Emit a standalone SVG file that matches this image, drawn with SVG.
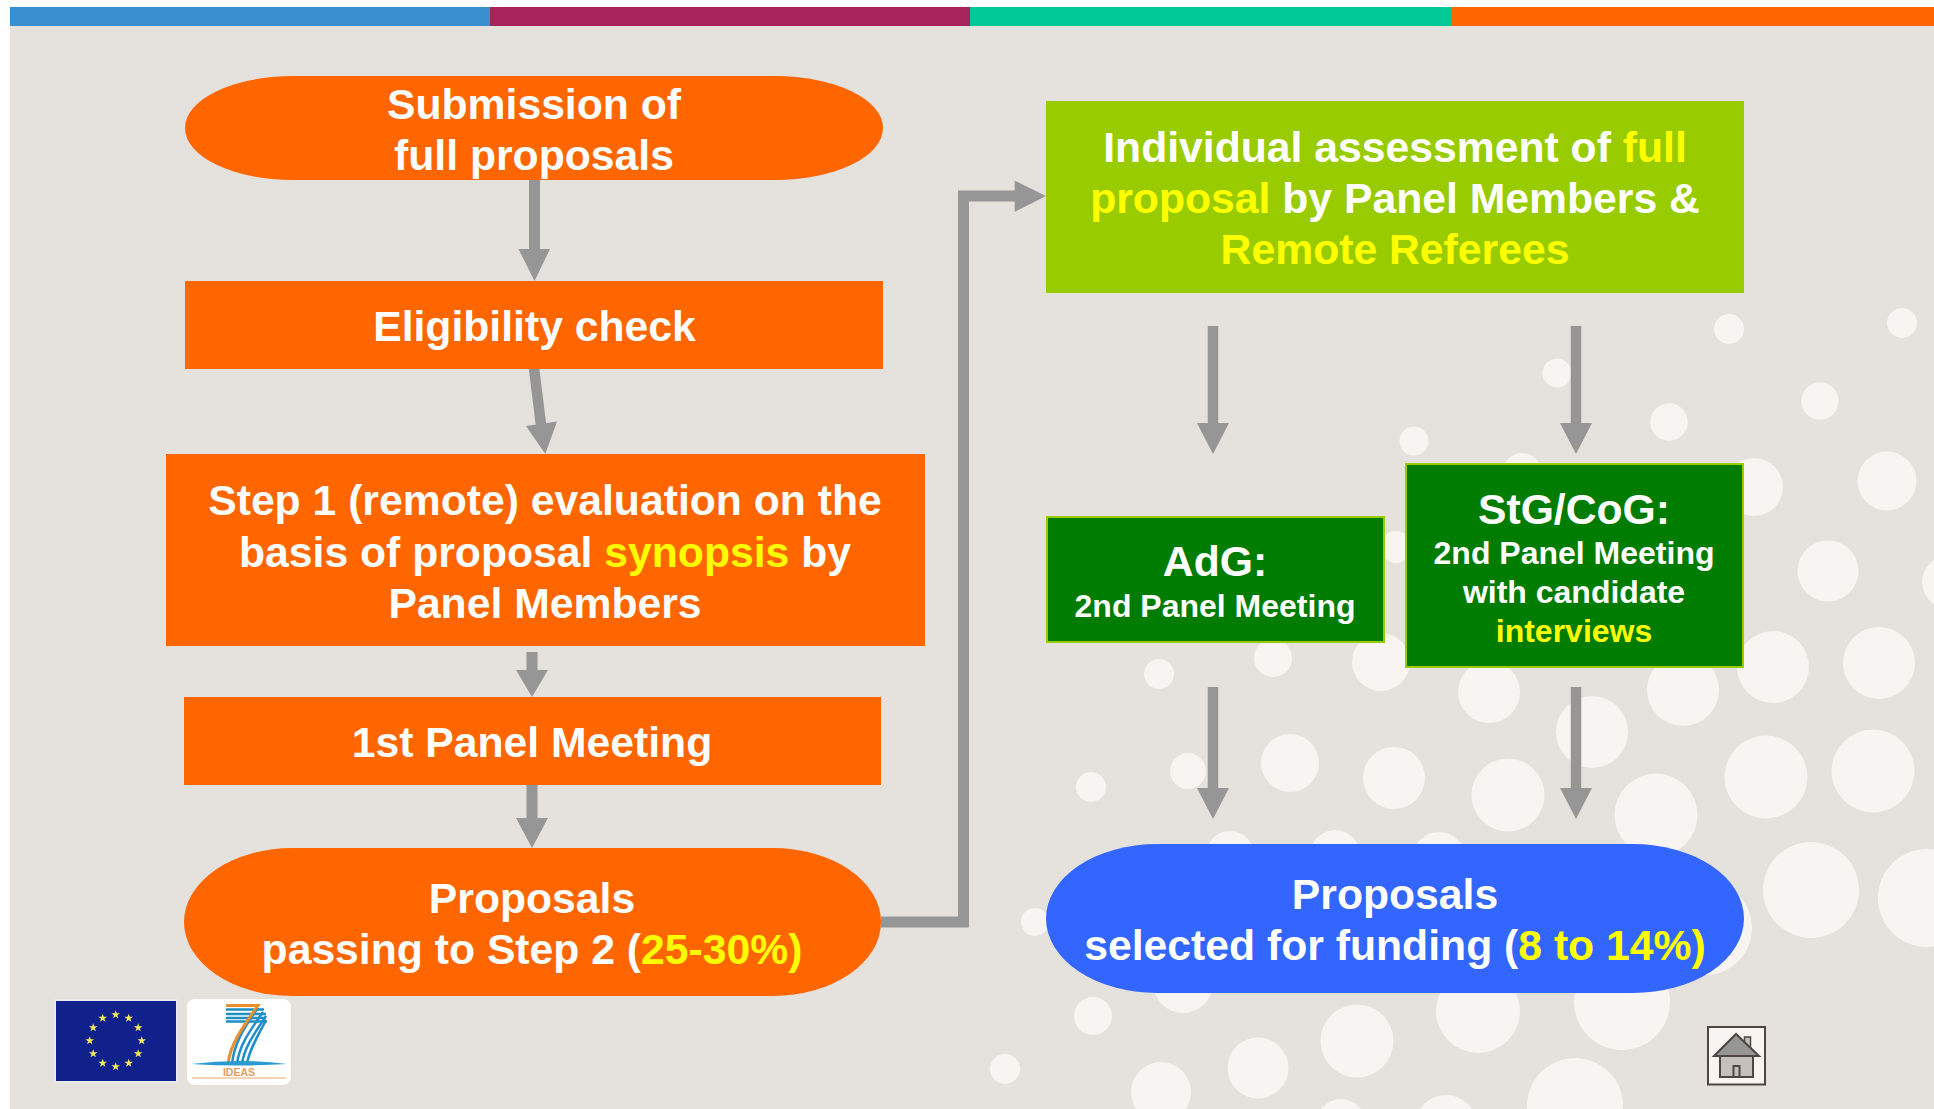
<svg xmlns="http://www.w3.org/2000/svg" xmlns:xlink="http://www.w3.org/1999/xlink" width="1934" height="1109" viewBox="0 0 1934 1109">
<style>
text{font-family:"Liberation Sans",Arial,sans-serif;font-weight:700;fill:#fff;text-anchor:middle}
.t{font-size:42.7px}.s{font-size:32px}.y{fill:#ff0}
.o{fill:#f60}.g{fill:#007c00;stroke:#9c0;stroke-width:2}
.a{stroke:#969696;fill:none}.h{fill:#969696}
.d{fill:#f7f4f2}
</style>
<defs><path id="star" d="M0-4.500L1.100-1.400 4.300-1.400 1.700.5 2.700 3.600 0 1.700-2.700 3.600-1.700.5-4.300-1.400-1.100-1.400Z" fill="#f0e85a"/></defs>
<rect width="1934" height="1109" fill="#fff"/>
<rect x="10" y="7" width="1924" height="1102" fill="#e5e1dd"/>
<g id="bar">
<rect x="10" y="7" width="480" height="19" fill="#3a8fd0"/>
<rect x="490" y="7" width="480" height="19" fill="#a8235c"/>
<rect x="970" y="7" width="481" height="19" fill="#00c896"/>
<rect x="1451" y="7" width="483" height="19" fill="#f60"/>
</g>
<g id="dots" class="d">
<circle cx="1729" cy="329" r="15"/><circle cx="1902" cy="323" r="15"/><circle cx="1557" cy="373" r="14.500"/><circle cx="1820" cy="401" r="18.700"/><circle cx="1669" cy="422" r="18.700"/><circle cx="1414" cy="441" r="14.500"/><circle cx="1522" cy="472" r="19"/><circle cx="1754" cy="487" r="29"/><circle cx="1887" cy="481" r="29.500"/><circle cx="1828" cy="571" r="30.500"/><circle cx="1948" cy="582" r="26"/><circle cx="1396" cy="547" r="16"/><circle cx="1273" cy="658" r="19"/><circle cx="1159" cy="674" r="15"/><circle cx="1381" cy="662" r="29"/><circle cx="1489" cy="692" r="31"/><circle cx="1683" cy="690" r="36"/><circle cx="1773" cy="667" r="36"/><circle cx="1879" cy="663" r="36"/><circle cx="1592" cy="732" r="36"/><circle cx="1290" cy="763" r="29"/><circle cx="1188" cy="771" r="18"/><circle cx="1091" cy="787" r="15"/><circle cx="1394" cy="778" r="31"/><circle cx="1508" cy="795" r="36.500"/><circle cx="1766" cy="777" r="41.500"/><circle cx="1873" cy="771" r="41.500"/><circle cx="1656" cy="815" r="41.500"/><circle cx="1811" cy="890" r="48"/><circle cx="1927" cy="898" r="49"/><circle cx="1230" cy="855" r="24"/><circle cx="1335" cy="855" r="25"/><circle cx="1439" cy="859" r="27"/><circle cx="1035" cy="922" r="14"/><circle cx="1705" cy="928" r="47"/><circle cx="1183" cy="983" r="30"/><circle cx="1093" cy="1016" r="19"/><circle cx="1357" cy="1041" r="36.500"/><circle cx="1478" cy="1011" r="42"/><circle cx="1622" cy="1002" r="48"/><circle cx="1258" cy="1068" r="30.500"/><circle cx="1005" cy="1069" r="15"/><circle cx="1161" cy="1092" r="30"/><circle cx="1575" cy="1106" r="48"/><circle cx="1341" cy="1124" r="25"/><circle cx="1446" cy="1126" r="31"/>
</g>
<g id="connectors">
<path class="a" stroke-width="11" d="M534.500 178V250"/><path class="h" d="M518.500 249H550L534.500 281Z"/>
<path class="a" stroke-width="10.500" d="M534 368L541 425"/><path class="h" d="M526 426L557 421.500L545.300 454Z"/>
<path class="a" stroke-width="11" d="M532 652V672"/><path class="h" d="M516 670H548L532 697Z"/>
<path class="a" stroke-width="11" d="M532 785V820"/><path class="h" d="M516 818H548L532 848Z"/>
<path class="a" stroke-width="11" d="M881 922H963.500V196H1015"/><path class="h" d="M1014.700 180.700V212L1046 196Z"/>
<path class="a" stroke-width="10.500" d="M1213 326V424"/><path class="h" d="M1197 423H1229L1213 454Z"/>
<path class="a" stroke-width="10.500" d="M1576 326V424"/><path class="h" d="M1560 423H1592L1576 454Z"/>
<path class="a" stroke-width="10.500" d="M1213 687V789"/><path class="h" d="M1197 788H1229L1213 819Z"/>
<path class="a" stroke-width="10.500" d="M1576 687V789"/><path class="h" d="M1560 788H1592L1576 819Z"/>
</g>
<g id="submission"><rect class="o" x="185" y="76" width="698" height="104" rx="108" ry="52"/><text class="t" x="534" y="119">Submission of</text><text class="t" x="534" y="170">full proposals</text></g>
<g id="eligibility"><rect class="o" x="185" y="281" width="698" height="88"/><text class="t" x="534.500" y="341">Eligibility check</text></g>
<g id="step1"><rect class="o" x="166" y="454" width="759" height="192"/><text class="t" x="545" y="515">Step 1 (remote) evaluation on the</text><text class="t" x="545" y="567">basis of proposal <tspan class="y">synopsis</tspan> by</text><text class="t" x="545" y="618">Panel Members</text></g>
<g id="panel1"><rect class="o" x="184" y="697" width="697" height="88"/><text class="t" x="532" y="757">1st Panel Meeting</text></g>
<g id="passing"><rect class="o" x="184" y="848" width="697" height="148" rx="108" ry="74"/><text class="t" x="532" y="913">Proposals</text><text class="t" x="532" y="964">passing to Step 2 (<tspan class="y">25-30%)</tspan></text></g>
<g id="assessment"><rect x="1046" y="101" width="698" height="192" fill="#9c0"/><text class="t" x="1395" y="162">Individual assessment of <tspan class="y">full</tspan></text><text class="t" x="1395" y="213"><tspan class="y">proposal</tspan> by Panel Members &amp;</text><text class="t" x="1395" y="264" style="fill:#ff0">Remote Referees</text></g>
<g id="adg"><rect class="g" x="1047" y="517" width="337" height="125"/><text class="t" x="1215" y="576">AdG:</text><text class="s" x="1215" y="617">2nd Panel Meeting</text></g>
<g id="stg"><rect class="g" x="1406" y="464" width="337" height="203"/><text class="t" x="1574" y="524">StG/CoG:</text><text class="s" x="1574" y="564">2nd Panel Meeting</text><text class="s" x="1574" y="603">with candidate</text><text class="s y" x="1574" y="642">interviews</text></g>
<g id="selected"><rect x="1046" y="844" width="698" height="149" rx="111" ry="74.500" fill="#36f"/><text class="t" x="1395" y="909">Proposals</text><text class="t" x="1395" y="960">selected for funding (<tspan class="y">8 to 14%)</tspan></text></g>
<g id="euflag"><rect x="54" y="999" width="124" height="84" fill="#e8e8f0"/><rect x="56" y="1001" width="120" height="80" fill="#10218c"/>
<use xlink:href="#star" href="#star" x="115.700" y="1014.700"/><use href="#star" x="128.700" y="1018.200"/><use href="#star" x="138.200" y="1027.700"/><use href="#star" x="141.700" y="1040.700"/><use href="#star" x="138.200" y="1053.700"/><use href="#star" x="128.700" y="1063.200"/><use href="#star" x="115.700" y="1066.700"/><use href="#star" x="102.700" y="1063.200"/><use href="#star" x="93.200" y="1053.700"/><use href="#star" x="89.700" y="1040.700"/><use href="#star" x="93.200" y="1027.700"/><use href="#star" x="102.700" y="1018.200"/></g>
<g id="fp7"><rect x="187" y="999" width="104" height="86" rx="8" fill="#fff"/>
<g fill="none" stroke="#1f8fc8" stroke-width="2.500"><path d="M226 1009.500H264M226 1014H266M226 1018H266M226 1021.500H267"/><path d="M258 1008C242 1030 234 1045 232 1064M263 1012C249 1032 239 1046 237 1064M266 1016C254 1034 244 1048 242 1064M266 1020C258 1036 249 1050 247 1064"/></g>
<path d="M226 1005.500H258C242 1028 230 1045 228 1064" fill="none" stroke="#e8902c" stroke-width="3"/>
<path d="M191 1064Q240 1058 287 1064Q240 1067 191 1064Z" fill="#2a9bd0"/>
<text x="239" y="1076" style="font-size:10.500px;fill:#e2a060">IDEAS</text>
<path d="M192 1078H286" stroke="#e8a868" stroke-width="1"/></g>
<g id="home"><rect x="1708" y="1027" width="57" height="57.500" fill="#f7f4f2" stroke="#4e4640" stroke-width="2"/>
<path d="M1744.500 1046V1037H1750.500V1050Z" fill="#c4c0bc" stroke="#4e4640" stroke-width="1.500"/>
<path d="M1720 1056H1753V1077H1720Z" fill="#c4c0bc" stroke="#4e4640" stroke-width="2"/>
<path d="M1714 1056L1736 1034L1759 1056Z" fill="#969694" stroke="#4e4640" stroke-width="2"/>
<path d="M1733.500 1066H1739.500V1077H1733.500Z" fill="#c4c0bc" stroke="#4e4640" stroke-width="2"/></g>
</svg>
